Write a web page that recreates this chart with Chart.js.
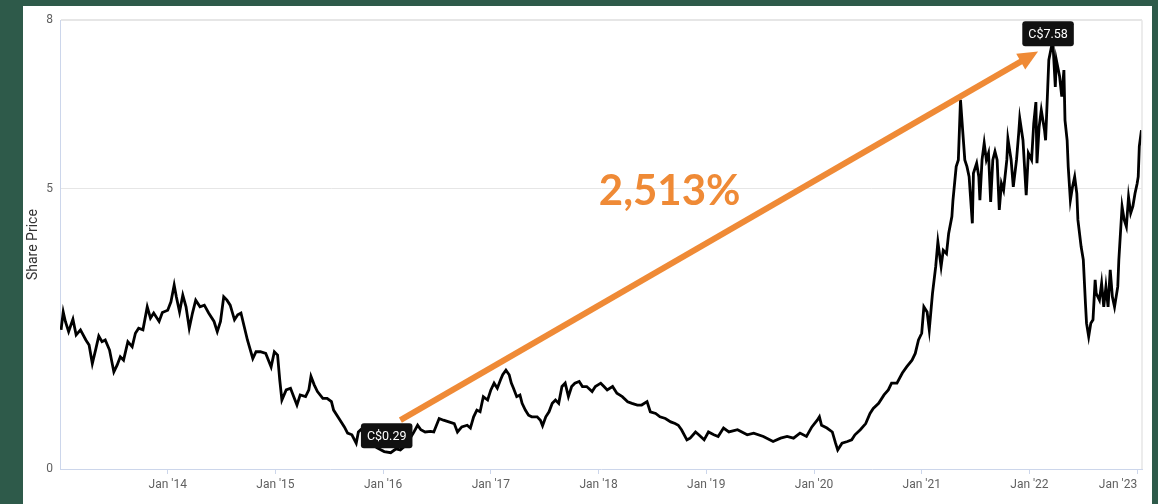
<!DOCTYPE html>
<html><head><meta charset="utf-8">
<script src="https://cdn.jsdelivr.net/npm/chart.js@4.4.1/dist/chart.umd.min.js"></script>
<style>
html,body{margin:0;padding:0;background:#2e5a4a;width:1158px;height:504px;overflow:hidden}
#panel{position:absolute;left:23px;top:6px;width:1129px;height:498px;background:#fff}
</style></head><body>
<div id="panel"><canvas id="c"></canvas></div>
<script>
// Decimal years of each sampled point
const years = [
2013.01,2013.03,2013.05,2013.08,2013.12,2013.15,2013.19,2013.24,2013.27,2013.30,
2013.33,2013.36,2013.39,2013.42,2013.46,2013.50,2013.53,2013.56,2013.59,2013.63,
2013.67,2013.70,2013.73,2013.77,2013.81,2013.84,2013.87,2013.92,2013.95,2014.00,
2014.03,2014.06,2014.08,2014.11,2014.14,2014.17,2014.20,2014.23,2014.26,2014.30,
2014.34,2014.38,2014.43,2014.46,2014.49,2014.52,2014.55,2014.58,2014.62,2014.65,
2014.68,2014.71,2014.74,2014.79,2014.82,2014.86,2014.91,2014.96,2014.99,2015.02,
2015.04,2015.06,2015.10,2015.14,2015.17,2015.20,2015.23,2015.28,2015.31,2015.33,
2015.36,2015.39,2015.44,2015.48,2015.52,2015.54,2015.59,2015.64,2015.67,2015.71,
2015.75,2015.77,2015.82,2015.88,2015.94,2016.01,2016.07,2016.12,2016.16,2016.21,
2016.25,2016.28,2016.32,2016.35,2016.39,2016.44,2016.47,2016.52,2016.56,2016.61,
2016.66,2016.69,2016.73,2016.78,2016.81,2016.84,2016.87,2016.90,2016.93,2016.97,
2017.00,2017.03,2017.06,2017.09,2017.11,2017.14,2017.17,2017.19,2017.21,2017.24,
2017.27,2017.29,2017.32,2017.35,2017.38,2017.43,2017.46,2017.48,2017.51,2017.54,
2017.57,2017.60,2017.63,2017.66,2017.69,2017.72,2017.75,2017.78,2017.82,2017.85,
2017.89,2017.94,2017.97,2018.02,2018.05,2018.08,2018.13,2018.17,2018.22,2018.27,
2018.31,2018.36,2018.40,2018.45,2018.48,2018.53,2018.57,2018.62,2018.67,2018.71,
2018.74,2018.77,2018.82,2018.85,2018.90,2018.93,2018.98,2019.02,2019.07,2019.11,
2019.16,2019.21,2019.29,2019.38,2019.44,2019.53,2019.62,2019.69,2019.75,2019.81,
2019.87,2019.93,2019.98,2020.03,2020.05,2020.07,2020.12,2020.17,2020.20,2020.22,
2020.26,2020.31,2020.35,2020.38,2020.43,2020.48,2020.52,2020.55,2020.60,2020.65,
2020.69,2020.72,2020.77,2020.82,2020.86,2020.91,2020.94,2020.97,2021.00,2021.02,
2021.05,2021.07,2021.10,2021.13,2021.15,2021.18,2021.20,2021.23,2021.25,2021.28,
2021.29,2021.32,2021.34,2021.36,2021.38,2021.40,2021.42,2021.44,2021.47,2021.48,
2021.51,2021.53,2021.54,2021.56,2021.58,2021.60,2021.62,2021.64,2021.66,2021.68,
2021.70,2021.72,2021.74,2021.76,2021.79,2021.80,2021.83,2021.85,2021.88,2021.90,
2021.91,2021.94,2021.97,2021.99,2022.02,2022.04,2022.06,2022.07,2022.09,2022.11,
2022.14,2022.15,2022.17,2022.18,2022.21,2022.22,2022.24,2022.25,2022.28,2022.30,
2022.32,2022.33,2022.35,2022.36,2022.38,2022.40,2022.42,2022.44,2022.45,2022.48,
2022.50,2022.52,2022.53,2022.55,2022.57,2022.59,2022.61,2022.62,2022.65,2022.67,
2022.69,2022.71,2022.73,2022.75,2022.77,2022.79,2022.82,2022.83,2022.86,2022.88,
2022.90,2022.92,2022.94,2022.96,2022.98,2023.00,2023.01,2023.02,2023.04
];
// Share price (C$)
const prices = [
2.48,2.80,2.63,2.45,2.67,2.39,2.48,2.30,2.21,1.88,
2.12,2.37,2.27,2.30,2.12,1.73,1.85,2.00,1.94,2.27,
2.18,2.42,2.51,2.48,2.89,2.69,2.78,2.63,2.79,2.83,
2.98,3.28,3.07,2.80,3.10,2.89,2.51,2.78,3.01,2.89,
2.92,2.78,2.63,2.45,2.63,3.07,3.01,2.92,2.66,2.75,
2.78,2.54,2.30,1.97,2.09,2.09,2.06,1.82,2.09,2.03,
1.59,1.23,1.41,1.44,1.29,1.14,1.32,1.29,1.41,1.65,
1.50,1.38,1.26,1.26,1.20,1.05,0.90,0.75,0.64,0.61,
0.46,0.66,0.75,0.50,0.38,0.31,0.29,0.36,0.34,0.42,
0.55,0.64,0.78,0.70,0.66,0.67,0.66,0.90,0.87,0.84,
0.81,0.66,0.75,0.78,0.73,0.93,1.05,1.02,1.29,1.23,
1.41,1.53,1.44,1.59,1.68,1.76,1.68,1.53,1.44,1.29,
1.32,1.17,1.05,0.96,0.93,0.93,0.87,0.77,0.93,1.02,
1.17,1.23,1.17,1.47,1.53,1.29,1.47,1.53,1.56,1.47,
1.47,1.38,1.47,1.53,1.47,1.41,1.47,1.35,1.29,1.20,
1.17,1.14,1.14,1.20,1.02,0.99,0.93,0.90,0.84,0.81,
0.78,0.70,0.52,0.55,0.66,0.61,0.52,0.66,0.61,0.58,
0.73,0.66,0.70,0.61,0.64,0.58,0.49,0.55,0.58,0.55,
0.64,0.58,0.75,0.87,0.93,0.78,0.73,0.66,0.46,0.34,
0.46,0.49,0.52,0.61,0.70,0.81,0.99,1.08,1.17,1.32,
1.41,1.53,1.53,1.71,1.82,1.94,2.06,2.30,2.42,2.89,
2.80,2.48,3.13,3.61,4.05,3.61,3.90,3.84,4.20,4.50,
4.79,5.39,5.51,6.58,6.04,5.51,5.39,5.21,4.38,5.27,
5.45,5.21,4.79,5.51,5.81,5.51,5.63,4.76,5.51,5.66,
5.51,4.62,5.09,4.97,5.51,5.89,5.51,5.03,5.51,5.98,
6.25,5.86,4.88,5.63,5.51,6.16,6.54,5.45,6.10,6.40,
6.04,5.86,6.81,7.29,7.58,7.53,6.81,7.29,7.00,6.64,
7.11,6.22,5.86,5.39,4.79,5.03,5.21,4.91,4.44,3.96,
3.73,2.95,2.60,2.36,2.60,2.66,3.37,3.13,3.01,3.31,
2.89,3.25,2.89,3.55,3.07,2.89,3.25,3.73,4.68,4.44,
4.32,4.85,4.56,4.68,4.91,5.09,5.21,5.75,6.04
];
const xTickYears = [2013, 2014, 2015, 2016, 2017, 2018, 2019, 2020, 2021, 2022, 2023];
const xTickLabels = ['', "Jan '14", "Jan '15", "Jan '16", "Jan '17", "Jan '18", "Jan '19", "Jan '20", "Jan '21", "Jan '22", "Jan '23"];
const yTickValues = [0, 5, 8];
const yTitle = 'Share Price';
const currency = 'C$';
// Annotation anchors in data units (year, price)
const arrowStart = [2016.16, 0.87];
const arrowEnd = [2022.08, 7.44];
const gainLabelAt = [2018.66, 4.94];

const ORANGE = '#ef8a36';
const AXIS = '#ccd6eb';
const GRID = '#e6e6e6';

const minIdx = prices.indexOf(Math.min(...prices));
const maxIdx = prices.indexOf(Math.max(...prices));
const gainPct = Math.floor((prices[maxIdx] / prices[minIdx] - 1) * 100);

function roundRect(ctx, x, y, w, h, r) {
  ctx.beginPath();
  ctx.moveTo(x + r, y);
  ctx.arcTo(x + w, y, x + w, y + h, r);
  ctx.arcTo(x + w, y + h, x, y + h, r);
  ctx.arcTo(x, y + h, x, y, r);
  ctx.arcTo(x, y, x + w, y, r);
  ctx.closePath();
}

const annot = {
  id: 'annot',
  afterDatasetsDraw(chart) {
    const { ctx, chartArea: a, scales: { x, y } } = chart;
    ctx.save();
    // right border of plot
    ctx.strokeStyle = GRID; ctx.lineWidth = 1.5;
    ctx.beginPath(); ctx.moveTo(a.right, a.top); ctx.lineTo(a.right, a.bottom); ctx.stroke();

    // arrow
    const x1 = x.getPixelForValue(arrowStart[0]), y1 = y.getPixelForValue(arrowStart[1]);
    const x2 = x.getPixelForValue(arrowEnd[0]), y2 = y.getPixelForValue(arrowEnd[1]);
    const ang = Math.atan2(y2 - y1, x2 - x1);
    const headLen = 20, headW = 9;
    const bx = x2 - headLen * Math.cos(ang), by = y2 - headLen * Math.sin(ang);
    ctx.strokeStyle = ORANGE; ctx.fillStyle = ORANGE; ctx.lineWidth = 6; ctx.lineCap = 'butt';
    ctx.beginPath(); ctx.moveTo(x1, y1); ctx.lineTo(bx + 2 * Math.cos(ang), by + 2 * Math.sin(ang)); ctx.stroke();
    ctx.beginPath();
    ctx.moveTo(x2, y2);
    ctx.lineTo(bx + headW * Math.sin(ang), by - headW * Math.cos(ang));
    ctx.lineTo(bx - headW * Math.sin(ang), by + headW * Math.cos(ang));
    ctx.closePath(); ctx.fill();

    // gain label
    ctx.font = 'bold 42px Lato';
    ctx.textAlign = 'center'; ctx.textBaseline = 'middle';
    ctx.fillText(gainPct.toLocaleString('en-US') + '%', x.getPixelForValue(gainLabelAt[0]), y.getPixelForValue(gainLabelAt[1]));

    // value flags
    const flag = (i, dx, dy) => {
      const px = x.getPixelForValue(years[i]) + dx, py = y.getPixelForValue(prices[i]) + dy;
      const txt = currency + prices[i].toFixed(2);
      ctx.font = '12.5px Roboto';
      const w = ctx.measureText(txt).width + 12, h = 25;
      ctx.fillStyle = '#111';
      roundRect(ctx, px - w / 2, py - h / 2, w, h, 3); ctx.fill();
      ctx.fillStyle = '#fff'; ctx.textAlign = 'center'; ctx.textBaseline = 'middle';
      ctx.fillText(txt, px, py + 1);
    };
    flag(minIdx, -4, -17);
    flag(maxIdx, -4, -10);
    ctx.restore();
  }
};

new Chart(document.getElementById('c'), {
  type: 'line',
  data: {
    datasets: [{
      data: years.map((v, i) => ({ x: v, y: prices[i] })),
      borderColor: '#000', borderWidth: 2.8, pointRadius: 0, tension: 0, fill: false
    }]
  },
  options: {
    responsive: true, maintainAspectRatio: false, animation: false,
    layout: { padding: { top: 14, right: 10, left: 0, bottom: 0 } },
    plugins: { legend: { display: false }, tooltip: { enabled: false } },
    scales: {
      x: {
        type: 'linear', min: 2013, max: 2023.045,
        afterBuildTicks: s => { s.ticks = xTickYears.map(v => ({ value: v })); },
        afterFit: s => { s.height = 35; },
        ticks: {
          align: 'inner', padding: 4, color: '#606060', maxRotation: 0, autoSkip: false,
          font: { family: 'Roboto', size: 12 },
          callback: v => { const k = xTickYears.indexOf(v); return k >= 0 ? xTickLabels[k] : ''; }
        },
        grid: {
          drawOnChartArea: false, drawTicks: true, tickLength: 5,
          tickColor: c => (c.tick && c.tick.value === xTickYears[0]) ? 'rgba(0,0,0,0)' : AXIS
        },
        border: { color: AXIS, width: 1 }
      },
      y: {
        min: 0, max: 8,
        afterBuildTicks: s => { s.ticks = yTickValues.map(v => ({ value: v })); },
        afterFit: s => { s.width = 37; },
        ticks: { padding: 7, color: '#606060', font: { family: 'Roboto', size: 12 } },
        grid: {
          drawTicks: false,
          color: c => (c.tick && c.tick.value === 0) ? 'rgba(0,0,0,0)' : GRID,
          lineWidth: c => (c.tick && c.tick.value === 8) ? 2 : 1
        },
        border: { color: AXIS, width: 1 },
        title: { display: true, text: yTitle, color: '#333', font: { family: 'Roboto', size: 14 }, padding: { top: 2, bottom: 0 } }
      }
    }
  },
  plugins: [annot]
});
</script>
</body></html>
